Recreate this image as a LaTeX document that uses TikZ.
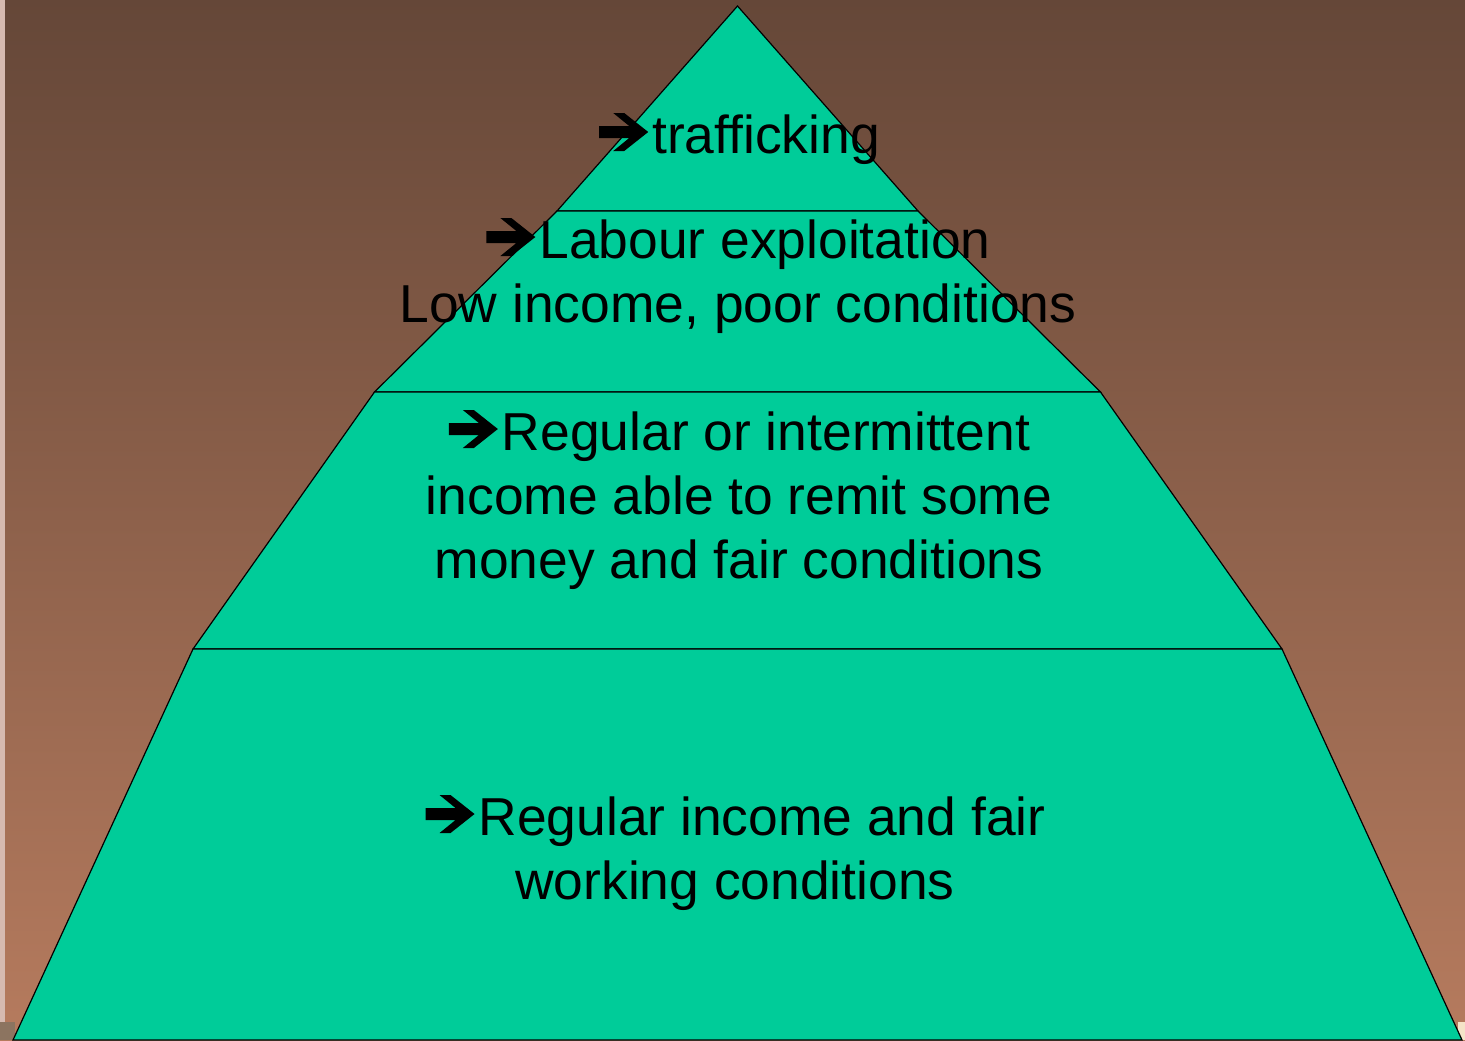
\documentclass[tikz,border=0pt]{standalone}
\usepackage{fontspec}
\setmainfont{Liberation Sans}
% heavy right arrow used as a bullet in front of each tier label
\newsavebox{\arrowbox}
\sbox{\arrowbox}{\tikz[x=0.5pt,y=0.5pt,baseline=0pt]{
  \useasboundingbox (-1,0) rectangle (53,40);
  \fill (0,15) -- (30,15) -- (14,2) -- (25,2) -- (49,21) -- (25,40)
        -- (14,40) -- (30,27) -- (0,27) -- cycle;}}
\newcommand{\arr}{\usebox{\arrowbox}}
\begin{document}
\begin{tikzpicture}[x=0.5pt,y=-0.5pt,
  tier/.style={fill=tiergreen,draw=black,line width=0.6pt,line join=miter},
  tiertext/.style={align=center,anchor=base,inner sep=0pt,
    font=\fontsize{26.7pt}{32pt}\selectfont}]
\definecolor{tiergreen}{RGB}{0,204,153}
\definecolor{bgtop}{RGB}{101,71,56}
\definecolor{bgbottom}{RGB}{182,123,94}
% background
\useasboundingbox (0,0) rectangle (1465,1040);
\shade[top color=bgtop,bottom color=bgbottom] (0,0) rectangle (1465,1040);
\fill[color={rgb,255:red,214;green,186;blue,176}] (0,0) rectangle (5,1040);
\fill[color={rgb,255:red,140;green,116;blue,96}] (0,1022) rectangle (15,1040);
\fill[color={rgb,255:red,245;green,228;blue,200}] (1458,1022) rectangle (1465,1040);
% pyramid corner points
\coordinate (apex) at (737.5,6);
\coordinate (l1) at (557,211);   \coordinate (r1) at (918,211);
\coordinate (l2) at (374.5,392); \coordinate (r2) at (1100.5,392);
\coordinate (l3) at (193,649);   \coordinate (r3) at (1282,649);
\coordinate (l4) at (13,1040);   \coordinate (r4) at (1462,1040);
% tiers
\path[tier] (apex) -- (r1) -- (l1) -- cycle;
\path[tier] (l1) -- (r1) -- (r2) -- (l2) -- cycle;
\path[tier] (l2) -- (r2) -- (r3) -- (l3) -- cycle;
\path[tier] (l3) -- (r3) -- (r4) -- (l4) -- cycle;
% labels (base anchor sits on the last line's baseline)
\node[tiertext] (t1) at (739,153) {\arr trafficking};
\node[tiertext] (t2) at (738,322) {\arr Labour exploitation\\Low income, poor conditions};
\node[tiertext] (t3) at (739,578) {\arr Regular or intermittent\\income able to remit some\\money and fair conditions};
\node[tiertext] (t4) at (735,899) {\arr Regular income and fair\\working conditions};
\end{tikzpicture}
\end{document}
